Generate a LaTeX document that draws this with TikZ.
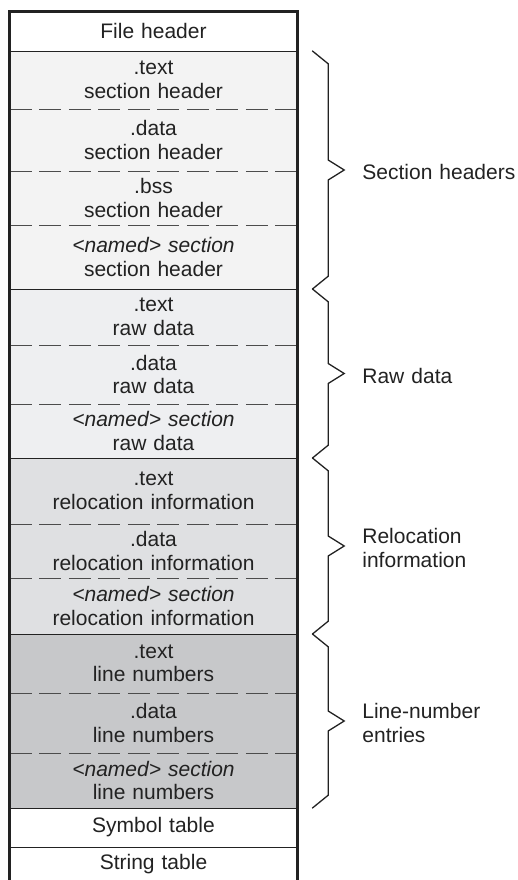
\documentclass[tikz,border=0pt]{standalone}
\usepackage{fontspec}
\setmainfont{Liberation Sans}
\usetikzlibrary{calc}
\definecolor{framegray}{HTML}{222222}
\definecolor{shfill}{HTML}{F3F3F3}
\definecolor{rawfill}{HTML}{EEEFF1}
\definecolor{relfill}{HTML}{DFE0E2}
\definecolor{lnfill}{HTML}{C7C8CA}
\tikzset{row/.style={minimum width=287pt,text width=287pt,inner sep=0pt,align=center,text=framegray,font=\fontsize{21}{23.5}\selectfont}}
\tikzset{solidsep/.style={draw=framegray,line width=1.2pt}}
\tikzset{dashsep/.style={draw=black!70,line width=1pt,dash pattern=on 22pt off 7.5pt}}
\tikzset{frame/.style={draw=framegray,line width=3pt,line join=miter}}
\tikzset{brace/.style={draw=framegray,line width=1.3pt,line join=miter}}
\tikzset{grouplabel/.style={anchor=west,text width=170pt,align=left,inner sep=0pt,text=framegray,font=\fontsize{21}{23.5}\selectfont}}

\begin{document}
\begin{tikzpicture}[x=1pt,y=-1pt]
    \useasboundingbox (0,0) rectangle (517,880);

    % rows of the file
    \foreach \n/\ya/\yb/\col/\txt in {
        1/11.5/51/white/{File header},
        2/51/109/shfill/{.text\\section header},
        3/109/171/shfill/{.data\\section header},
        4/171/225/shfill/{.bss\\section header},
        5/225/289/shfill/{\textit{<named> section}\\section header},
        6/289/345/rawfill/{.text\\raw data},
        7/345/404/rawfill/{.data\\raw data},
        8/404/458/rawfill/{\textit{<named> section}\\raw data},
        9/458/524/relfill/{.text\\relocation information},
        10/524/578/relfill/{.data\\relocation information},
        11/578/634/relfill/{\textit{<named> section}\\relocation information},
        12/634/693/lnfill/{.text\\line numbers},
        13/693/753/lnfill/{.data\\line numbers},
        14/753/808/lnfill/{\textit{<named> section}\\line numbers},
        15/808/847/white/{Symbol table},
        16/847/882/white/{String table}}{
      \pgfmathsetmacro\h{\yb-\ya}
      \node[row,fill=\col,minimum height=\h pt] (r\n) at (153.5,{(\ya+\yb)/2}) {\txt};
    }

    % separators
    \foreach \n/\sty in {1/solidsep,2/dashsep,3/dashsep,4/dashsep,5/solidsep,
        6/dashsep,7/dashsep,8/solidsep,9/dashsep,10/dashsep,11/solidsep,
        12/dashsep,13/dashsep,14/solidsep,15/solidsep}{
      \draw[\sty] (r\n.south west) -- (r\n.south east);
    }

    \draw[frame] (r16.south west) -- (r1.north west) -- (r1.north east) -- (r16.south east);

    % braces and group labels
    \foreach \a/\b/\lab [count=\i] in {r2/r5/{Section headers},r6/r8/{Raw data},
        r9/r11/{Relocation\\information},r12/r14/{Line-number\\entries}}{
      \draw[brace] let \p1=(\a.north east), \p2=(\b.south east) in
        (\x1+15pt,\y1) -- (\x1+31pt,\y1-13pt) -- (\x1+31pt,{(\y1+\y2)/2+10pt})
        -- (\x1+47pt,{(\y1+\y2)/2}) coordinate (tip\i)
        -- (\x1+31pt,{(\y1+\y2)/2-10pt}) -- (\x1+31pt,\y2+13pt) -- (\x1+15pt,\y2);
      \node[grouplabel] (g\i) at ([xshift=18pt,yshift=-2pt]tip\i) {\lab};
    }
\end{tikzpicture}
\end{document}
